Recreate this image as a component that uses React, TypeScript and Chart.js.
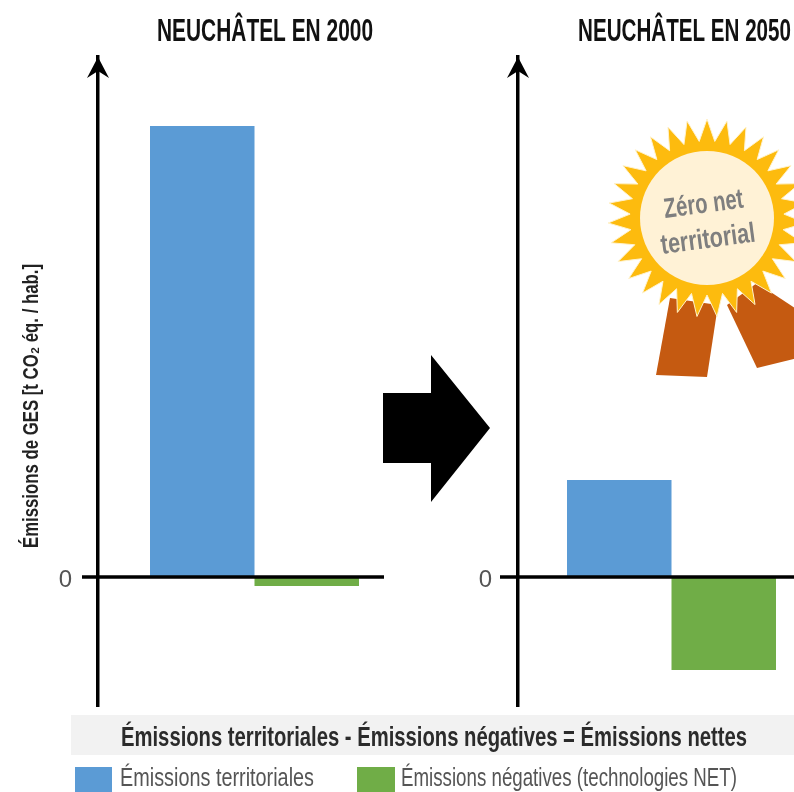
import React, { useEffect, useRef } from "react";
import { Chart, registerables } from "chart.js";

Chart.register(...registerables);

const seriesNames = ["Émissions territoriales", "Émissions négatives (technologies NET)"];
const territorial2000 = [9.02];
const negative2000 = [-0.18];
const territorial2050 = [1.94];
const negative2050 = [-1.86];
const yMin = -2.58;
const yMax = 10.4;
const title2000 = "NEUCHÂTEL EN 2000";
const title2050 = "NEUCHÂTEL EN 2050";
const yTitle = "Émissions de GES [t CO₂ éq. / hab.]";
const equation = "Émissions territoriales - Émissions négatives = Émissions nettes";
const badgeLines = ["Zéro net", "territorial"];

const BLUE = "#5B9BD5";
const GREEN = "#70AD47";
const FONT = '"Liberation Sans", sans-serif';

function fitText(
  ctx: CanvasRenderingContext2D,
  text: string,
  x: number,
  baseline: number,
  width: number,
  font: string,
  color: string,
  rotation = 0,
) {
  ctx.save();
  ctx.font = font;
  ctx.fillStyle = color;
  ctx.textAlign = "left";
  ctx.textBaseline = "alphabetic";
  const natural = ctx.measureText(text).width;
  ctx.translate(x, baseline);
  if (rotation) ctx.rotate(rotation);
  ctx.scale(width / natural, 1);
  ctx.fillText(text, 0, 0);
  ctx.restore();
}

function poly(ctx: CanvasRenderingContext2D, pts: number[][], fill: string) {
  ctx.beginPath();
  pts.forEach(([x, y], i) => (i ? ctx.lineTo(x, y) : ctx.moveTo(x, y)));
  ctx.closePath();
  ctx.fillStyle = fill;
  ctx.fill();
}

function axisDecor(startX: number, endX: number) {
  return {
    id: "axisDecor",
    afterDatasetsDraw(chart: any) {
      const { ctx, scales, chartArea } = chart;
      const zero = scales.y.getPixelForValue(0);
      ctx.save();
      ctx.strokeStyle = "#000";
      ctx.lineWidth = 3.5;
      ctx.beginPath();
      ctx.moveTo(startX, zero);
      ctx.lineTo(endX, zero);
      ctx.stroke();
      const ax = chartArea.left;
      const top = chartArea.top;
      poly(ctx, [[ax, top], [ax + 11, top + 21], [ax, top + 14], [ax - 11, top + 21]], "#000");
      ctx.restore();
    },
  };
}

const leftExtras = {
  id: "leftExtras",
  afterDraw(chart: any) {
    const { ctx } = chart;
    fitText(ctx, title2000, 157, 41, 216, `bold 31px ${FONT}`, "#111");
    // big transition arrow
    poly(ctx, [[383, 393], [431, 393], [431, 355], [490, 428], [431, 502], [431, 463], [383, 463]], "#000");
    // y title
    ctx.save();
    ctx.translate(38, 548);
    ctx.rotate(-Math.PI / 2);
    fitText(ctx, yTitle, 0, 0, 284, `bold 22px ${FONT}`, "#222");
    ctx.restore();
    // equation band
    ctx.fillStyle = "#F2F2F2";
    ctx.fillRect(71, 715, 723, 40);
    fitText(ctx, equation, 121, 746, 626, `bold 27px ${FONT}`, "#2b2b2b");
    // legend
    ctx.fillStyle = BLUE;
    ctx.fillRect(75, 767, 37, 25);
    ctx.fillStyle = GREEN;
    ctx.fillRect(357, 767, 38, 25);
    fitText(ctx, seriesNames[0], 120, 786, 194, `25px ${FONT}`, "#555");
    fitText(ctx, seriesNames[1], 401, 786, 336, `25px ${FONT}`, "#555");
  },
};

const rightExtras = {
  id: "rightExtras",
  afterDraw(chart: any) {
    const { ctx } = chart;
    fitText(ctx, title2050, 578, 41, 213, `bold 31px ${FONT}`, "#111");
    // ribbons
    const RIB = "#C55A11";
    poly(ctx, [[670, 298], [718, 305], [707, 377], [656, 375]], RIB);
    poly(ctx, [[757, 283], [810, 318], [810, 355], [757, 368], [727, 305]], RIB);
    // star
    const cx = 707;
    const cy = 218;
    const tips = 31;
    ctx.beginPath();
    for (let i = 0; i < tips * 2; i++) {
      const a = (i * Math.PI) / tips - Math.PI / 2;
      const r = i % 2 === 0 ? 99 : 77;
      const px = cx + r * Math.cos(a);
      const py = cy + r * Math.sin(a);
      if (i === 0) ctx.moveTo(px, py);
      else ctx.lineTo(px, py);
    }
    ctx.closePath();
    ctx.fillStyle = "#FDBB0E";
    ctx.strokeStyle = "#FFF2CC";
    ctx.lineWidth = 1;
    ctx.fill();
    ctx.stroke();
    ctx.beginPath();
    ctx.arc(cx, cy, 67, 0, Math.PI * 2);
    ctx.fillStyle = "#FFF2D6";
    ctx.fill();
    const rot = (-7.6 * Math.PI) / 180;
    fitText(ctx, badgeLines[0], 665, 218, 80, `bold 28px ${FONT}`, "#7F7F7F", rot);
    fitText(ctx, badgeLines[1], 662, 254, 95, `bold 28px ${FONT}`, "#7F7F7F", rot);
  },
};

function config(
  label: string,
  terr: number[],
  neg: number[],
  padLeft: number,
  padRight: number,
  catPct: number,
  plugins: any[],
): any {
  return {
    type: "bar",
    data: {
      labels: [label],
      datasets: [
        { label: seriesNames[0], data: terr, backgroundColor: BLUE },
        { label: seriesNames[1], data: neg, backgroundColor: GREEN },
      ],
    },
    plugins,
    options: {
      responsive: false,
      animation: false,
      layout: { padding: { left: padLeft, right: padRight, top: 57, bottom: 86 } },
      datasets: { bar: { barPercentage: 1, categoryPercentage: catPct } },
      plugins: { legend: { display: false }, title: { display: false }, tooltip: { enabled: false } },
      scales: {
        x: { display: false, stacked: false },
        y: {
          min: yMin,
          max: yMax,
          afterBuildTicks: (s: any) => {
            s.ticks = [{ value: 0 }];
          },
          afterFit: (s: any) => {
            s.width = 98;
          },
          grid: { display: false, drawTicks: false },
          border: { display: true, color: "#000", width: 3.5 },
          ticks: {
            padding: 26,
            labelOffset: 3,
            color: "#555",
            font: { family: FONT, size: 24 },
            callback: () => "0",
          },
        },
      },
    },
  };
}

export default function App() {
  const leftRef = useRef<HTMLCanvasElement>(null);
  const rightRef = useRef<HTMLCanvasElement>(null);
  useEffect(() => {
    const a = new Chart(
      leftRef.current!,
      config(title2000, territorial2000, negative2000, 0, 383, 209 / 313, [axisDecor(82, 384), leftExtras]),
    );
    const b = new Chart(
      rightRef.current!,
      config(title2050, territorial2050, negative2050, 420, 55, 209 / 307, [axisDecor(500, 800), rightExtras]),
    );
    return () => {
      a.destroy();
      b.destroy();
    };
  }, []);
  return (
    <div
      style={{ position: "absolute", left: 0, top: 0, width: 794, height: 792, overflow: "hidden", background: "#fff" }}
    >
      <canvas ref={leftRef} width={794} height={792} style={{ position: "absolute", left: 0, top: 0 }} />
      <canvas ref={rightRef} width={880} height={792} style={{ position: "absolute", left: 0, top: 0 }} />
    </div>
  );
}
